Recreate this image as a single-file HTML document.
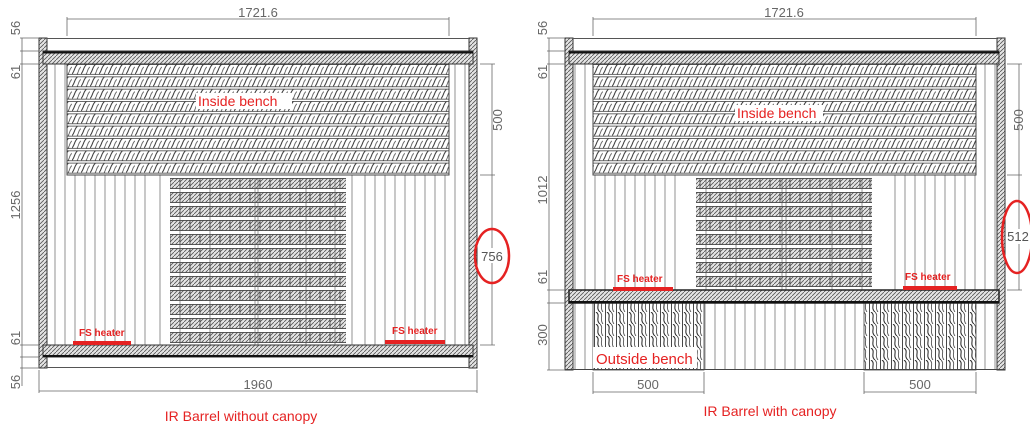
<!DOCTYPE html>
<html><head><meta charset="utf-8"><style>
html,body{margin:0;padding:0;background:#fff;width:1030px;height:437px;overflow:hidden}
svg{display:block}
text{font-family:"Liberation Sans",sans-serif}
</style></head><body>
<svg width="1030" height="437" viewBox="0 0 1030 437" xmlns="http://www.w3.org/2000/svg">
<defs>
 <pattern id="hatch" width="4" height="4" patternUnits="userSpaceOnUse">
  <rect width="4" height="4" fill="#e4e4e4"/><path d="M0 4L4 0" stroke="#555" stroke-width="0.8"/>
 </pattern>
 <pattern id="wave" width="9" height="10" patternUnits="userSpaceOnUse">
  <rect width="9" height="10" fill="#fff"/><path d="M0 10C3 7 2 3 6 0" stroke="#333" stroke-width="1" fill="none"/><path d="M5 10C7 8 6 5 9 3" stroke="#555" stroke-width="0.8" fill="none"/>
 </pattern>
 <pattern id="wavev" width="11" height="12" patternUnits="userSpaceOnUse">
  <rect width="11" height="12" fill="#fff"/><path d="M2 0C7 3 1 8 6 12" stroke="#333" stroke-width="1.1" fill="none"/><path d="M6 0C10 4 5 7 9 12" stroke="#555" stroke-width="0.9" fill="none"/>
 </pattern>
 <pattern id="rows" x="0" y="64" width="9" height="12.33" patternUnits="userSpaceOnUse">
  <rect width="9" height="12.33" fill="#fff"/><rect y="0.5" width="9" height="10" fill="url(#wave)"/>
  <path d="M0 0.5H9M0 10.5H9" stroke="#333" stroke-width="0.8"/>
 </pattern>
 <pattern id="slats" x="0" y="178" width="10" height="14" patternUnits="userSpaceOnUse">
  <rect width="10" height="14" fill="#fff"/><rect y="0.5" width="10" height="10" fill="url(#hatch)" stroke="#333" stroke-width="0.8"/>
 </pattern>
 <pattern id="vl" width="10" height="10" patternUnits="userSpaceOnUse">
  <rect width="10" height="10" fill="#fff"/><path d="M5 0V10" stroke="#777" stroke-width="0.8"/>
 </pattern>
 <pattern id="vlo" width="11" height="12" patternUnits="userSpaceOnUse">
  <rect width="11" height="12" fill="url(#wavev)"/><path d="M0.5 0V12" stroke="#333" stroke-width="0.9"/>
 </pattern>
</defs>

<!-- ============ LEFT DRAWING ============ -->
<g>
 <rect x="47" y="64" width="422" height="281" fill="url(#vl)"/>
 <rect x="150" y="175" width="210" height="170" fill="#fff"/>
 <path d="M160 175V345M352 175V345" stroke="#777" stroke-width="0.8"/>
 <rect x="67" y="64" width="382" height="111" fill="url(#rows)" stroke="#444"/>
 <rect x="170" y="178" width="176" height="168" fill="url(#slats)"/>
 <path d="M180 178V345M210 178V345M255 178V345M258 178V345M306 178V345M335 178V345" stroke="#555" stroke-width="0.6"/>
 <rect x="196" y="93" width="96" height="16" fill="#fff"/>
 <text x="198" y="106" font-size="14" fill="#e52222">Inside bench</text>
 <rect x="39" y="38" width="8" height="330" fill="url(#hatch)" stroke="#333"/>
 <rect x="469" y="38" width="8" height="330" fill="url(#hatch)" stroke="#333"/>
 <path d="M47 38.5H469" stroke="#555"/>
 <rect x="43" y="51" width="430" height="13" fill="url(#hatch)" stroke="#333"/>
 <path d="M43 52.5H473" stroke="#111" stroke-width="2"/>
 <rect x="43" y="345" width="430" height="12" fill="url(#hatch)" stroke="#333"/>
 <path d="M43 356H473" stroke="#111" stroke-width="2"/>
 <path d="M47 367.5H469" stroke="#555"/>
 <rect x="73" y="341" width="58" height="4" fill="#e52222"/>
 <rect x="385" y="340" width="60" height="4" fill="#e52222"/>
 <text x="79" y="336" font-size="10" font-weight="bold" fill="#e52222">FS heater</text>
 <text x="392" y="334" font-size="10" font-weight="bold" fill="#e52222">FS heater</text>
 <g stroke="#666" stroke-width="0.8" fill="none">
  <path d="M67 36V17M449 36V17M67 19H449"/>
  <path d="M39 370V393M477 370V393M39 391H477"/>
  <path d="M22 38V386M20 38H39M20 51H39M20 64H39M20 345H39M20 357H39M20 368H39"/>
  <path d="M480 64H495M480 175H495M480 345H495M492 64V345"/>
 </g>
 <g fill="#666" font-size="13">
  <text x="258" y="17" text-anchor="middle">1721.6</text>
  <text x="258" y="389" text-anchor="middle">1960</text>
  <text transform="translate(20,28) rotate(-90)" text-anchor="middle">56</text>
  <text transform="translate(20,72) rotate(-90)" text-anchor="middle">61</text>
  <text transform="translate(20,205) rotate(-90)" text-anchor="middle">1256</text>
  <text transform="translate(20,338) rotate(-90)" text-anchor="middle">61</text>
  <text transform="translate(20,382) rotate(-90)" text-anchor="middle">56</text>
  <text transform="translate(502,120) rotate(-90)" text-anchor="middle">500</text>
 </g>
 <rect x="481" y="248" width="22" height="15" fill="#fff"/>
 <text x="492" y="261" font-size="13" fill="#555" text-anchor="middle" font-family="Liberation Serif">756</text>
 <ellipse cx="492" cy="256" rx="17" ry="27" fill="none" stroke="#e52222" stroke-width="2.5"/>
 <text x="241" y="421" font-size="14" fill="#e52222" text-anchor="middle">IR Barrel without canopy</text>
</g>

<!-- ============ RIGHT DRAWING ============ -->
<g>
 <rect x="573" y="64" width="424" height="306" fill="url(#vl)"/>
 <rect x="676" y="175" width="216" height="115" fill="#fff"/>
 <rect x="593" y="64" width="383" height="111" fill="url(#rows)" stroke="#444"/>
 <rect x="696" y="178" width="176" height="112" fill="url(#slats)"/>
 <path d="M706 178V290M736 178V290M782 178V290M786 178V290M832 178V290M862 178V290" stroke="#555" stroke-width="0.6"/>
 <rect x="735" y="105" width="88" height="16" fill="#fff"/>
 <text x="737" y="118" font-size="14" fill="#e52222">Inside bench</text>
 <rect x="593" y="303" width="111" height="67" fill="url(#vlo)" stroke="#444" stroke-width="0.8"/>
 <rect x="864" y="303" width="112" height="67" fill="url(#vlo)" stroke="#444" stroke-width="0.8"/>
 <rect x="593" y="347" width="104" height="21" fill="#fff"/>
 <text x="596" y="364" font-size="15" fill="#e52222">Outside bench</text>
 <rect x="565" y="38" width="8" height="332" fill="url(#hatch)" stroke="#333"/>
 <rect x="997" y="38" width="8" height="332" fill="url(#hatch)" stroke="#333"/>
 <path d="M573 38.5H997" stroke="#555"/>
 <rect x="569" y="51" width="430" height="13" fill="url(#hatch)" stroke="#333"/>
 <path d="M569 52.5H999" stroke="#111" stroke-width="2"/>
 <rect x="569" y="290" width="430" height="13" fill="url(#hatch)" stroke="#222" stroke-width="1.5"/>
 <path d="M569 302H999" stroke="#111" stroke-width="2"/>
 <path d="M565 369.5H1005" stroke="#444"/>
 <rect x="613" y="287" width="60" height="4" fill="#e52222"/>
 <rect x="903" y="286" width="54" height="4" fill="#e52222"/>
 <text x="617" y="282" font-size="10" font-weight="bold" fill="#e52222">FS heater</text>
 <text x="905" y="280" font-size="10" font-weight="bold" fill="#e52222">FS heater</text>
 <g stroke="#666" stroke-width="0.8" fill="none">
  <path d="M593 36V17M976 36V17M593 19H976"/>
  <path d="M549 38V370M547 38H565M547 51H565M547 64H565M547 290H565M547 303H565M547 370H565"/>
  <path d="M1007 64H1022M1007 175H1022M1007 290H1022M1019 64V290"/>
  <path d="M593 372V394M704 372V394M593 392H704M864 372V394M976 372V394M864 392H976"/>
 </g>
 <g fill="#666" font-size="13">
  <text x="784" y="17" text-anchor="middle">1721.6</text>
  <text x="648" y="389" text-anchor="middle">500</text>
  <text x="920" y="389" text-anchor="middle">500</text>
  <text transform="translate(547,28) rotate(-90)" text-anchor="middle">56</text>
  <text transform="translate(547,72) rotate(-90)" text-anchor="middle">61</text>
  <text transform="translate(547,190) rotate(-90)" text-anchor="middle">1012</text>
  <text transform="translate(547,277) rotate(-90)" text-anchor="middle">61</text>
  <text transform="translate(547,335) rotate(-90)" text-anchor="middle">300</text>
  <text transform="translate(1023,120) rotate(-90)" text-anchor="middle">500</text>
 </g>
 <rect x="1007" y="229" width="22" height="15" fill="#fff"/>
 <text x="1018" y="241" font-size="13" fill="#555" text-anchor="middle" font-family="Liberation Serif">512</text>
 <ellipse cx="1017" cy="237" rx="15" ry="36" fill="none" stroke="#e52222" stroke-width="2.5"/>
 <text x="770" y="416" font-size="14" fill="#e52222" text-anchor="middle">IR Barrel with canopy</text>
</g>
</svg>
</body></html>
